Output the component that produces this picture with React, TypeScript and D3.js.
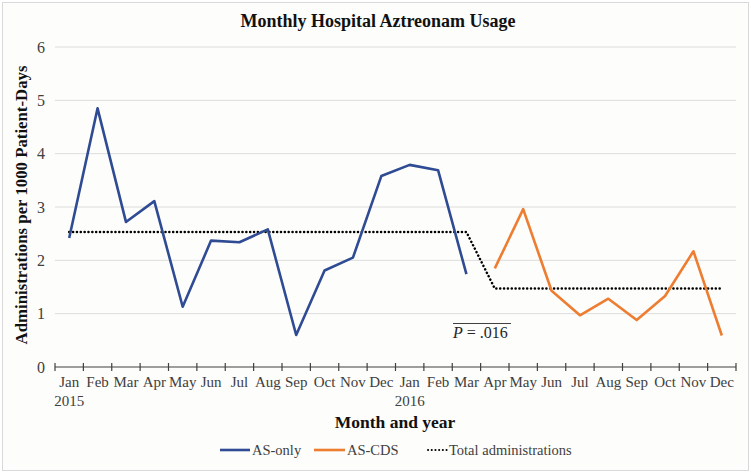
import React, { useEffect, useRef } from "react";
import * as d3 from "d3";

const months = ["Jan", "Feb", "Mar", "Apr", "May", "Jun", "Jul", "Aug", "Sep", "Oct", "Nov", "Dec"];
const monthLabels = [...months, ...months];
const yearLabels = [
  { index: 0, label: "2015" },
  { index: 12, label: "2016" },
];
const yTicks = [0, 1, 2, 3, 4, 5, 6];

// AS-only: Jan 2015 - Mar 2016
const asOnly = [2.42, 4.85, 2.72, 3.11, 1.13, 2.37, 2.34, 2.58, 0.6, 1.81, 2.05, 3.58, 3.79, 3.69, 1.74];
// AS-CDS: Apr 2016 - Dec 2016
const asCds = [1.85, 2.96, 1.43, 0.97, 1.28, 0.88, 1.33, 2.17, 0.59];
// Total administrations (segmented mean)
const totalAdmin = [
  2.53, 2.53, 2.53, 2.53, 2.53, 2.53, 2.53, 2.53, 2.53, 2.53, 2.53, 2.53, 2.53, 2.53, 2.53,
  1.47, 1.47, 1.47, 1.47, 1.47, 1.47, 1.47, 1.47, 1.47,
];

const BLUE = "#2f4b93";
const ORANGE = "#ed7d31";
const FONT = "'Liberation Serif', 'Times New Roman', serif";

export default function App() {
  const svgRef = useRef<SVGSVGElement | null>(null);

  useEffect(() => {
    if (!svgRef.current) return;
    const width = 751;
    const height = 473;
    const margin = { top: 47, right: 15, bottom: 106, left: 55 };

    const svg = d3.select(svgRef.current);
    svg.selectAll("*").remove();
    svg.attr("width", width).attr("height", height).attr("font-family", FONT);

    svg
      .append("rect")
      .attr("x", 2.5)
      .attr("y", 2.5)
      .attr("width", width - 5)
      .attr("height", height - 5)
      .attr("fill", "#fdfdfb")
      .attr("stroke", "#d9d9d9");

    const x = d3
      .scaleBand<number>()
      .domain(d3.range(24))
      .range([margin.left, width - margin.right]);
    const cx = (i: number) => (x(i) as number) + x.bandwidth() / 2;

    const y = d3
      .scaleLinear()
      .domain([0, 6])
      .range([height - margin.bottom, margin.top]);

    // gridlines
    svg
      .append("g")
      .selectAll("line")
      .data(yTicks.filter((d) => d > 0))
      .join("line")
      .attr("x1", margin.left)
      .attr("x2", width - margin.right)
      .attr("y1", (d) => y(d))
      .attr("y2", (d) => y(d))
      .attr("stroke", "#dcdcdc")
      .attr("stroke-width", 1);

    // y tick labels
    svg
      .append("g")
      .selectAll("text")
      .data(yTicks)
      .join("text")
      .attr("x", 45)
      .attr("y", (d) => y(d))
      .attr("dy", "0.35em")
      .attr("text-anchor", "end")
      .attr("font-size", 16)
      .attr("fill", "#404040")
      .text((d) => d);

    // x axis line with cross ticks
    const y0 = y(0);
    svg
      .append("line")
      .attr("x1", margin.left)
      .attr("x2", width - margin.right)
      .attr("y1", y0)
      .attr("y2", y0)
      .attr("stroke", "#404040")
      .attr("stroke-width", 1.2);
    const tickPos = d3.range(25).map((i) => (i < 24 ? (x(i) as number) : width - margin.right));
    svg
      .append("g")
      .selectAll("line")
      .data(tickPos)
      .join("line")
      .attr("x1", (d) => d)
      .attr("x2", (d) => d)
      .attr("y1", y0 - 4)
      .attr("y2", y0 + 4)
      .attr("stroke", "#404040")
      .attr("stroke-width", 1.2);

    // month labels
    svg
      .append("g")
      .selectAll("text")
      .data(monthLabels)
      .join("text")
      .attr("x", (_, i) => cx(i))
      .attr("y", 387)
      .attr("text-anchor", "middle")
      .attr("font-size", 15)
      .attr("fill", "#404040")
      .text((d) => d);

    svg
      .append("g")
      .selectAll("text")
      .data(yearLabels)
      .join("text")
      .attr("x", (d) => cx(d.index))
      .attr("y", 406)
      .attr("text-anchor", "middle")
      .attr("font-size", 15)
      .attr("fill", "#404040")
      .text((d) => d.label);

    // lines
    const line = d3
      .line<number>()
      .x((_, i) => cx(i))
      .y((d) => y(d));

    svg
      .append("path")
      .datum(totalAdmin)
      .attr("fill", "none")
      .attr("stroke", "#000")
      .attr("stroke-width", 2.5)
      .attr("stroke-dasharray", "0.1 3.75")
      .attr("stroke-linecap", "round")
      .attr("d", line);

    svg
      .append("path")
      .datum(asOnly)
      .attr("fill", "none")
      .attr("stroke", BLUE)
      .attr("stroke-width", 2.6)
      .attr("stroke-linejoin", "round")
      .attr("d", line);

    const lineCds = d3
      .line<number>()
      .x((_, i) => cx(i + asOnly.length))
      .y((d) => y(d));
    svg
      .append("path")
      .datum(asCds)
      .attr("fill", "none")
      .attr("stroke", ORANGE)
      .attr("stroke-width", 2.6)
      .attr("stroke-linejoin", "round")
      .attr("d", lineCds);

    // P annotation
    svg
      .append("line")
      .attr("x1", 453)
      .attr("x2", 511)
      .attr("y1", 323.5)
      .attr("y2", 323.5)
      .attr("stroke", "#404040")
      .attr("stroke-width", 1);
    const pText = svg
      .append("text")
      .attr("x", 453)
      .attr("y", 338)
      .attr("font-size", 16)
      .attr("fill", "#262626");
    pText.append("tspan").attr("font-style", "italic").text("P");
    pText.append("tspan").text(" = .016");

    // title
    svg
      .append("text")
      .attr("x", 378)
      .attr("y", 27)
      .attr("text-anchor", "middle")
      .attr("font-size", 18)
      .attr("font-weight", "bold")
      .attr("fill", "#111")
      .text("Monthly Hospital Aztreonam Usage");

    // axis titles
    svg
      .append("text")
      .attr("transform", `translate(27,${(margin.top + y0) / 2 - 2}) rotate(-90)`)
      .attr("text-anchor", "middle")
      .attr("font-size", 16.8)
      .attr("font-weight", "bold")
      .attr("fill", "#111")
      .text("Administrations per 1000 Patient-Days");

    svg
      .append("text")
      .attr("x", 395)
      .attr("y", 428)
      .attr("text-anchor", "middle")
      .attr("font-size", 17.5)
      .attr("font-weight", "bold")
      .attr("fill", "#111")
      .text("Month and year");

    // legend
    const legend = [
      { label: "AS-only", color: BLUE, x: 220, dash: null as string | null, len: 30 },
      { label: "AS-CDS", color: ORANGE, x: 314, dash: null, len: 31 },
      { label: "Total administrations", color: "#000", x: 428, dash: "0.1 3.6", len: 19 },
    ];
    const lg = svg.append("g").selectAll("g").data(legend).join("g");
    lg.append("line")
      .attr("x1", (d) => d.x)
      .attr("x2", (d) => d.x + d.len)
      .attr("y1", 450)
      .attr("y2", 450)
      .attr("stroke", (d) => d.color)
      .attr("stroke-width", (d) => (d.dash ? 2 : 2.6))
      .attr("stroke-linecap", (d) => (d.dash ? "round" : "butt"))
      .attr("stroke-dasharray", (d) => d.dash);
    lg.append("text")
      .attr("x", (d) => d.x + d.len + 2)
      .attr("y", 455)
      .attr("font-size", 14.5)
      .attr("fill", "#404040")
      .text((d) => d.label);
  }, []);

  return <svg ref={svgRef} style={{ position: "absolute", left: 0, top: 0 }} />;
}
